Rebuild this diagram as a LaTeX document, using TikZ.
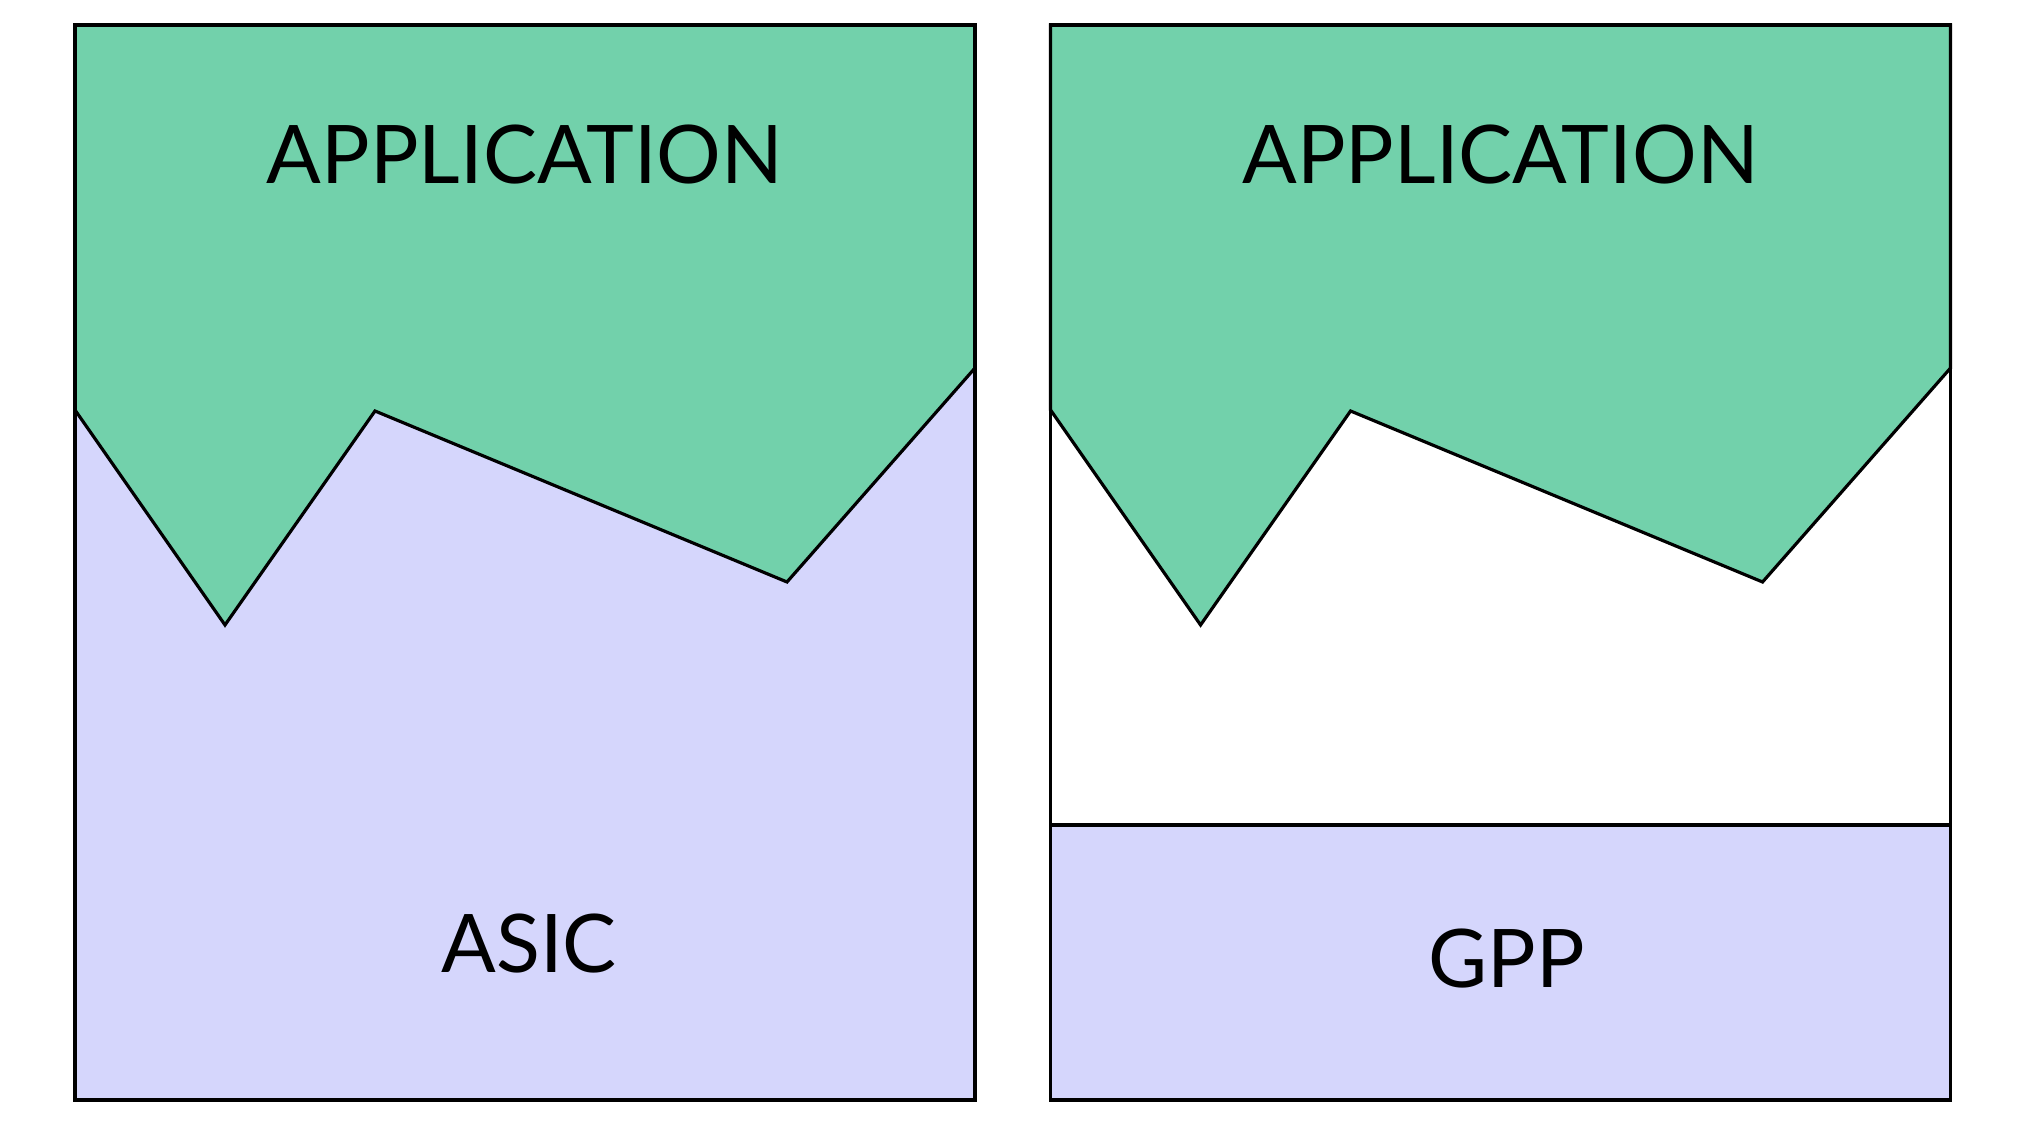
\documentclass[tikz,border=0pt]{standalone}
\usepackage{fontspec}
\setmainfont{Lato}
\definecolor{appgreen}{RGB}{114,209,171}
\definecolor{hwlav}{RGB}{213,214,252}
\begin{document}
\begin{tikzpicture}[x=0.01cm,y=-0.01cm,
  frame/.style={draw=black,line width=0.9pt,line join=miter},
  hwfill/.style={fill=hwlav},
  appshape/.style={fill=appgreen,draw=black,line width=0.9pt,line join=miter},
  label/.style={font=\fontsize{23}{26}\selectfont,anchor=base,inner sep=0pt}]
\useasboundingbox (0,0) rectangle (2020,1125);

% left panel: application over a dedicated chip
\fill[hwfill] (75,25) rectangle (975,1100);
\path[appshape] (75,25) -- (975,25) -- (975,368) -- (787,582) -- (375,411)
  -- (225,625) -- (75,410) -- cycle;
\draw[frame] (75,25) rectangle (975,1100);
\node[label] (appL) at (525,184) {APPLICATION};
\node[label] (asic) at (529,973) {ASIC};

% right panel: application over a general-purpose processor
\begin{scope}[xshift=9.75cm]
\fill[hwfill] (75,825) rectangle (975,1100);
\draw[frame] (75,825) -- (975,825);
\path[appshape] (75,25) -- (975,25) -- (975,368) -- (787,582) -- (375,411)
  -- (225,625) -- (75,410) -- cycle;
\draw[frame] (75,25) rectangle (975,1100);
\node[label] (appR) at (525,184) {APPLICATION};
\node[label] (gpp) at (531,988) {GPP};
\end{scope}
\end{tikzpicture}
\end{document}
